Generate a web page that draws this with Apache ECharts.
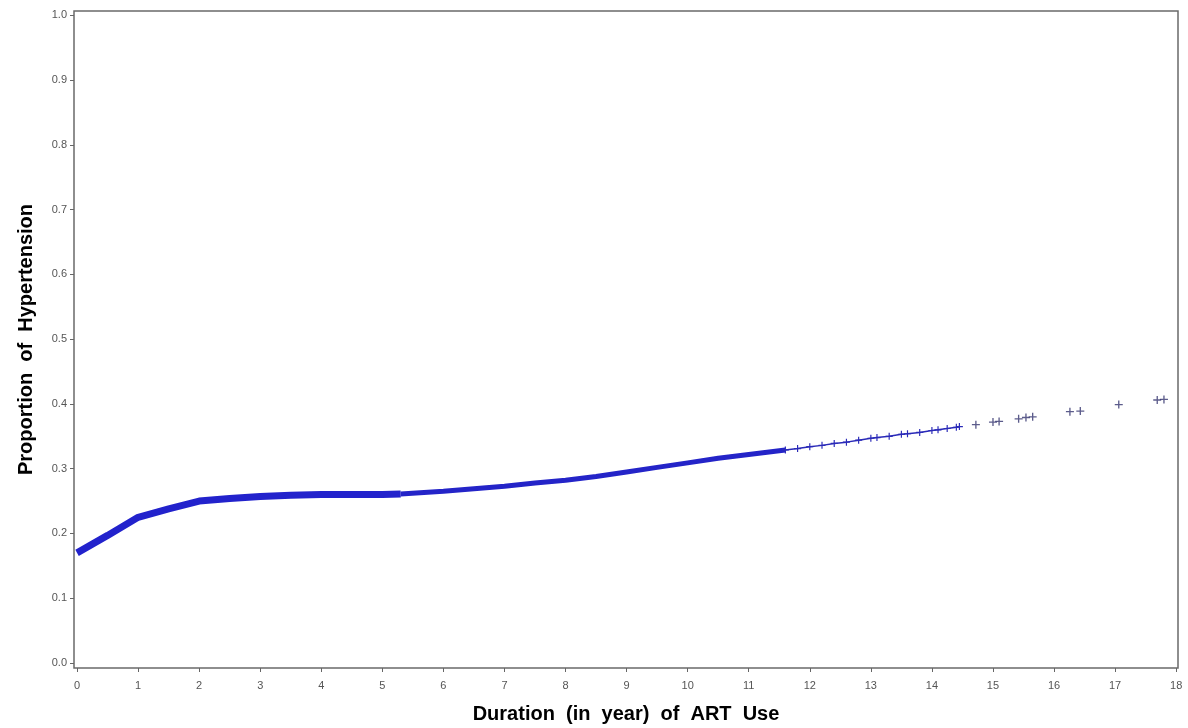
<!DOCTYPE html>
<html>
<head>
<meta charset="utf-8">
<script src="https://cdn.jsdelivr.net/npm/echarts@6/dist/echarts.min.js"></script>
<style>
  html, body { margin: 0; padding: 0; background: #fff; }
  #chart { width: 1188px; height: 728px; }
</style>
</head>
<body>
<div id="chart"></div>
<script>
// duration (years) vs proportion
const thickYears = [0, 0.5, 1.0, 1.5, 2.0, 2.5, 3.0, 3.5, 4.0, 4.5, 5.0, 5.3]
const thickProp = [0.170, 0.197, 0.225, 0.238, 0.250, 0.254, 0.257, 0.259, 0.260, 0.260, 0.260, 0.261]

const midYears = [5.3, 6.0, 6.5, 7.0, 7.5, 8.0, 8.5, 9.0, 9.5, 10.0, 10.5, 11.0, 11.6]
const midProp = [0.261, 0.265, 0.269, 0.273, 0.278, 0.282, 0.288, 0.295, 0.302, 0.309, 0.316, 0.322, 0.329]

const thinYears = [11.6, 11.8, 12.0, 12.2, 12.4, 12.6, 12.8, 13.0, 13.1, 13.3, 13.5, 13.6, 13.8, 14.0, 14.1, 14.25, 14.4, 14.45]
const thinProp = [0.329, 0.331, 0.334, 0.336, 0.339, 0.341, 0.344, 0.347, 0.348, 0.350, 0.353, 0.354, 0.356, 0.359, 0.360, 0.362, 0.364, 0.365]

const tailYears = [14.72, 15.0, 15.1, 15.42, 15.54, 15.65, 16.26, 16.43, 17.06, 17.69, 17.8]
const tailProp = [0.368, 0.372, 0.373, 0.377, 0.379, 0.380, 0.388, 0.389, 0.399, 0.406, 0.407]

const xTickValues = [0, 1, 2, 3, 4, 5, 6, 7, 8, 9, 10, 11, 12, 13, 14, 15, 16, 17, 18]
const yTickValues = [0, 0.1, 0.2, 0.3, 0.4, 0.5, 0.6, 0.7, 0.8, 0.9, 1.0]

const plus = 'path://M5,0H7V5H12V7H7V12H5V7H0V5H5Z'

const pair = (xs, ys) => xs.map((x, i) => [x, ys[i]])

const chart = echarts.init(document.getElementById('chart'))
chart.setOption({
  backgroundColor: '#fff',
  animation: false,
  textStyle: { fontFamily: 'Liberation Sans, Arial, sans-serif' },
  grid: {
    left: 74, right: 10, top: 11, bottom: 60,
    containLabel: false,
    outerBoundsMode: 'none',
    show: true, borderColor: '#6a6a6a', borderWidth: 1.5
  },
  xAxis: {
    type: 'value',
    // frame sits a little outside 0 and 18
    min: -0.05,
    max: 18.03,
    axisLine: { show: false, onZero: false },
    axisTick: {
      show: true, inside: false, length: 4, customValues: xTickValues,
      lineStyle: { color: '#666' }
    },
    splitLine: { show: false },
    axisLabel: {
      color: '#555', fontSize: 11, margin: 12,
      customValues: xTickValues
    },
    name: 'Duration  (in  year)  of  ART  Use',
    nameLocation: 'middle',
    nameGap: 36,
    nameTextStyle: { color: '#000', fontSize: 20, fontWeight: 'bold' }
  },
  yAxis: {
    type: 'value',
    min: -0.0077,
    max: 1.0066,
    axisLine: { show: false, onZero: false },
    axisTick: {
      show: true, inside: false, length: 4, customValues: yTickValues,
      lineStyle: { color: '#666' }
    },
    splitLine: { show: false },
    axisLabel: {
      color: '#555',
      fontSize: 11,
      margin: 7,
      customValues: yTickValues,
      formatter: (v) => v.toFixed(1)
    },
    name: 'Proportion  of  Hypertension',
    nameLocation: 'middle',
    nameGap: 38,
    nameTextStyle: { color: '#000', fontSize: 20, fontWeight: 'bold' }
  },
  series: [
    {
      type: 'line',
      showSymbol: false,
      lineStyle: { color: '#2222cc', width: 7 },
      data: pair(thickYears, thickProp)
    },
    {
      type: 'line',
      showSymbol: false,
      lineStyle: { color: '#2424c8', width: 5 },
      data: pair(midYears, midProp)
    },
    {
      type: 'line',
      symbol: plus,
      symbolSize: 7,
      itemStyle: { color: '#2a2ab8' },
      lineStyle: { color: '#2a2ab8', width: 1.5 },
      data: pair(thinYears, thinProp)
    },
    {
      type: 'scatter',
      symbol: plus,
      symbolSize: 8,
      itemStyle: { color: '#33336e' },
      data: pair(tailYears, tailProp)
    }
  ]
})
</script>
</body>
</html>
